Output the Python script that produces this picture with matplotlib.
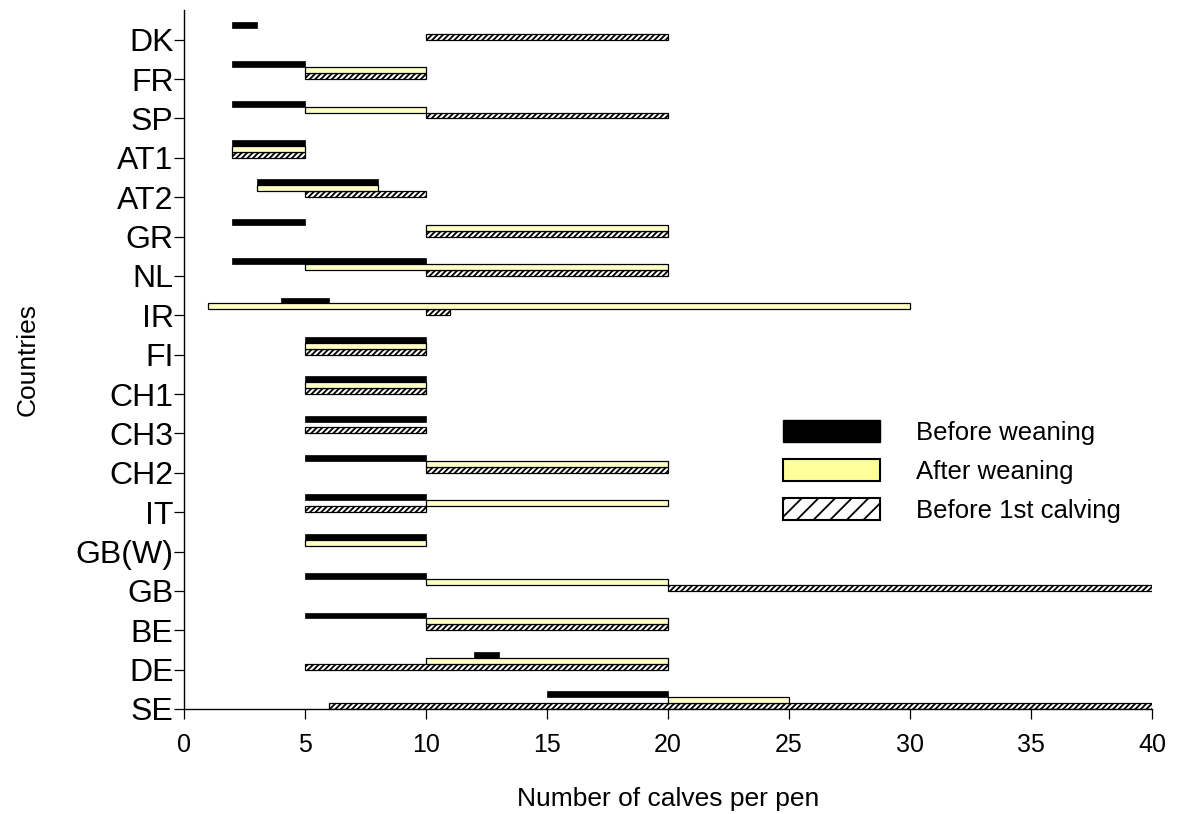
import numpy as np
import matplotlib
matplotlib.use('Agg')
import matplotlib.pyplot as plt
from matplotlib.patches import Patch

# Range of group size (calves per pen) per country and rearing period
countries = ['DK', 'FR', 'SP', 'AT1', 'AT2', 'GR', 'NL', 'IR', 'FI', 'CH1',
             'CH3', 'CH2', 'IT', 'GB(W)', 'GB', 'BE', 'DE', 'SE']
nan = np.nan
before_lo = [2, 2, 2, 2, 3, 2, 2, 4, 5, 5, 5, 5, 5, 5, 5, 5, 12, 15]
before_hi = [3, 5, 5, 5, 8, 5, 10, 6, 10, 10, 10, 10, 10, 10, 10, 10, 13, 20]
after_lo = [nan, 5, 5, 2, 3, 10, 5, 1, 5, 5, nan, 10, 10, 5, 10, 10, 10, 20]
after_hi = [nan, 10, 10, 5, 8, 20, 20, 30, 10, 10, nan, 20, 20, 10, 20, 20, 20, 25]
calving_lo = [10, 5, 10, 2, 5, 10, 10, 10, 5, 5, 5, 10, 5, nan, 20, 10, 5, 6]
calving_hi = [20, 10, 20, 5, 10, 20, 20, 11, 10, 10, 10, 20, 10, nan, 40, 20, 20, 40]

labels = ['Before weaning', 'After weaning', 'Before 1st calving']

plt.rcParams['font.family'] = ['Liberation Sans', 'DejaVu Sans']
plt.rcParams['hatch.linewidth'] = 1.3

fig = plt.figure(figsize=(11.79, 8.14), dpi=100)
ax = fig.add_axes([0.156, 0.129, 0.821, 0.859])

pos = np.arange(len(countries))[::-1]
h = 0.15


def rng(lo, hi):
    lo = np.array(lo, dtype=float)
    hi = np.array(hi, dtype=float)
    return lo, hi - lo


lo, w = rng(calving_lo, calving_hi)
ax.barh(pos, w, left=lo, height=h, align='edge', color='white',
        edgecolor='black', linewidth=0.9, hatch='//////')
lo, w = rng(after_lo, after_hi)
ax.barh(pos + h, w, left=lo, height=h, align='edge', color='#FFFFC6',
        edgecolor='black', linewidth=0.9)
lo, w = rng(before_lo, before_hi)
ax.barh(pos + 2 * h, w, left=lo, height=h, align='edge', color='black',
        edgecolor='black', linewidth=0.5)

ax.set_xlim(0, 40)
ax.set_ylim(0, 17.76)
ax.set_xticks(np.arange(0, 41, 5))
ax.set_yticks(pos)
ax.set_yticklabels(countries)

for s in ['top', 'right']:
    ax.spines[s].set_visible(False)
for s in ['left', 'bottom']:
    ax.spines[s].set_linewidth(1.0)

ax.tick_params(axis='y', labelsize=23, length=7, width=0.9, pad=0.5)
ax.tick_params(axis='x', labelsize=18, length=7, width=0.9, pad=10)

ax.set_xlabel('Number of calves per pen', fontsize=19, labelpad=22)
ax.set_ylabel('Countries', fontsize=19, labelpad=26)

handles = [Patch(facecolor='black', edgecolor='black'),
           Patch(facecolor='#FFFF99', edgecolor='black', linewidth=1.5),
           Patch(facecolor='white', edgecolor='black', linewidth=1.5, hatch='//')]
ax.legend(handles, labels, loc='upper left', bbox_to_anchor=(0.619, 0.414),
          frameon=False, fontsize=18.5, handlelength=3.77, handleheight=0.97,
          handletextpad=1.4, labelspacing=0.55, borderpad=0, borderaxespad=0)

fig.savefig('out.png', dpi=100)
